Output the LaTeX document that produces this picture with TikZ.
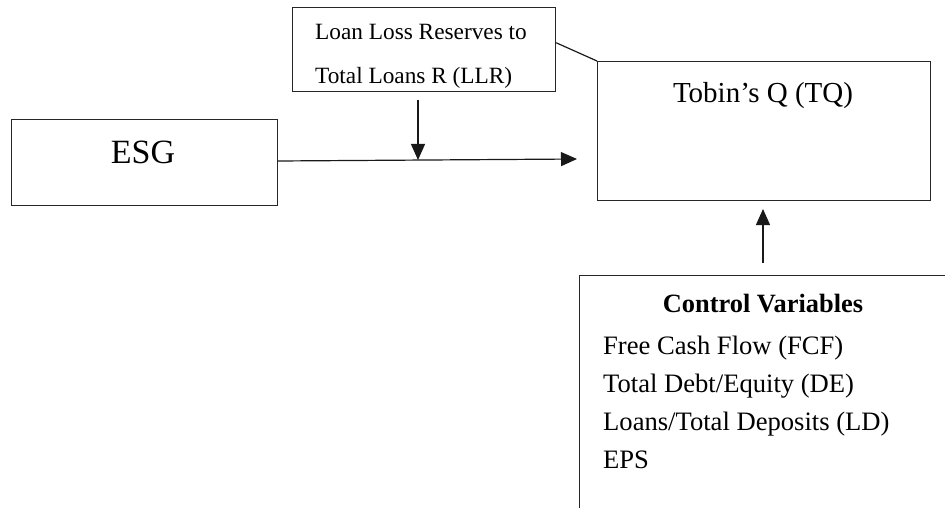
\documentclass[tikz,border=0pt]{standalone}
\usepackage{fontspec}
\setmainfont{Liberation Serif}
\usetikzlibrary{arrows.meta,calc}
\begin{document}
\begin{tikzpicture}[x=1pt,y=-1pt,
  boxline/.style={draw=black!85,line width=1.2pt},
  conn/.style={draw=black!90,line width=1.2pt},
  arr/.style={conn,-{Triangle[length=16pt,width=14pt]}},
  txt/.style={inner sep=0pt,anchor=base}]
\useasboundingbox (0,0) rectangle (945,508);
\clip (0,0) rectangle (945,508);
% boxes
\node[boxline,anchor=north west,minimum width=266pt,minimum height=86pt,inner sep=0pt] (esg) at (11,119) {};
\node[boxline,anchor=north west,minimum width=263pt,minimum height=84pt,inner sep=0pt] (llr) at (292,7) {};
\node[boxline,anchor=north west,minimum width=333pt,minimum height=139pt,inner sep=0pt] (tq) at (597,61) {};
\node[boxline,anchor=north west,minimum width=380pt,minimum height=250pt,inner sep=0pt] (ctrl) at (579,275) {};
% texts
\node[txt,font=\fontsize{34}{40}\selectfont] (esgt) at (143,164) {ESG};
\node[txt,font=\fontsize{29}{34}\selectfont] (tqt) at (763,103) {Tobin’s Q (TQ)};
\begin{scope}
\clip (llr.north west) rectangle (llr.south east);
\node[txt,anchor=base west,font=\fontsize{23.3}{28}\selectfont] (llr1) at (315,40) {Loan Loss Reserves to};
\node[txt,anchor=base west,font=\fontsize{23.3}{28}\selectfont] (llr2) at (315,84) {Total Loans R (LLR)};
\end{scope}
\node[txt,font=\bfseries\fontsize{26.4}{32}\selectfont] (cv) at (763,312) {Control Variables};
\node[txt,anchor=base west,font=\fontsize{26.6}{32}\selectfont] (c1) at (603,354) {Free Cash Flow (FCF)};
\node[txt,anchor=base west,font=\fontsize{26.6}{32}\selectfont] (c2) at (603,392) {Total Debt/Equity (DE)};
\node[txt,anchor=base west,font=\fontsize{26.6}{32}\selectfont] (c3) at (603,430) {Loans/Total Deposits (LD)};
\node[txt,anchor=base west,font=\fontsize{26.6}{32}\selectfont] (c4) at (603,468) {EPS};
% connectors
\coordinate (hend) at (577,159);
\coordinate (hmid) at (418,160);
\coordinate (dtail) at (418,100);
\coordinate (utail) at (763,263);
\coordinate (uhead) at (763,209);
\draw[arr] (esg.east |- 0,161) -- (hend);
\draw[arr] (dtail) -- (hmid);
\draw[arr] (utail) -- (uhead);
\draw[conn] ($(llr.north east)!0.42!(llr.south east)$) -- (tq.north west);
\end{tikzpicture}
\end{document}
